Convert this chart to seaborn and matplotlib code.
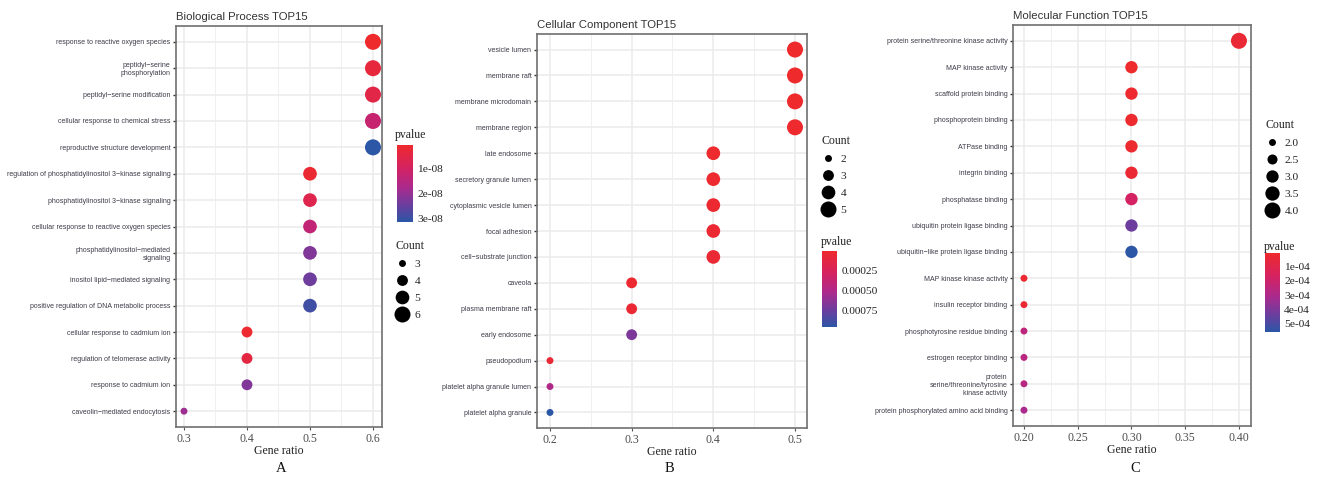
import numpy as np
import pandas as pd
import seaborn as sns
import matplotlib.pyplot as plt
from matplotlib.colors import LinearSegmentedColormap, Normalize
from matplotlib.cm import ScalarMappable
from matplotlib.lines import Line2D

# dados
bp_terms = [
    "response to reactive oxygen species", "peptidyl\u2212serine\nphosphorylation",
    "peptidyl\u2212serine modification", "cellular response to chemical stress",
    "reproductive structure development",
    "regulation of phosphatidylinositol 3\u2212kinase signaling",
    "phosphatidylinositol 3\u2212kinase signaling",
    "cellular response to reactive oxygen species",
    "phosphatidylinositol\u2212mediated\nsignaling",
    "inositol lipid\u2212mediated signaling",
    "positive regulation of DNA metabolic process",
    "cellular response to cadmium ion", "regulation of telomerase activity",
    "response to cadmium ion", "caveolin\u2212mediated endocytosis",
]
bp_ratio = [0.6, 0.6, 0.6, 0.6, 0.6, 0.5, 0.5, 0.5, 0.5, 0.5, 0.5, 0.4, 0.4, 0.4, 0.3]
bp_count = [6, 6, 6, 6, 6, 5, 5, 5, 5, 5, 5, 4, 4, 4, 3]
bp_pvalue = [4e-10, 3e-09, 5e-09, 1.2e-08, 3.12e-08, 1.5e-09, 6e-09, 1.3e-08,
             2.2e-08, 2.4e-08, 2.9e-08, 1e-09, 4e-09, 2.2e-08, 1.9e-08]

cc_terms = [
    "vesicle lumen", "membrane raft", "membrane microdomain", "membrane region",
    "late endosome", "secretory granule lumen", "cytoplasmic vesicle lumen",
    "focal adhesion", "cell\u2212substrate junction", "caveola",
    "plasma membrane raft", "early endosome", "pseudopodium",
    "platelet alpha granule lumen", "platelet alpha granule",
]
cc_ratio = [0.5, 0.5, 0.5, 0.5, 0.4, 0.4, 0.4, 0.4, 0.4, 0.3, 0.3, 0.3, 0.2, 0.2, 0.2]
cc_count = [5, 5, 5, 5, 4, 4, 4, 4, 4, 3, 3, 3, 2, 2, 2]
cc_pvalue = [1e-06, 2e-06, 3e-06, 5e-06, 1e-05, 1.5e-05, 2e-05, 3e-05, 4e-05,
             2e-05, 4e-05, 6.8e-04, 5e-05, 5e-04, 9.5e-04]

mf_terms = [
    "protein serine/threonine kinase activity", "MAP kinase activity",
    "scaffold protein binding", "phosphoprotein binding", "ATPase binding",
    "integrin binding", "phosphatase binding", "ubiquitin protein ligase binding",
    "ubiquitin\u2212like protein ligase binding", "MAP kinase kinase activity",
    "insulin receptor binding", "phosphotyrosine residue binding",
    "estrogen receptor binding",
    "protein\nserine/threonine/tyrosine\nkinase activity",
    "protein phosphorylated amino acid binding",
]
mf_ratio = [0.4, 0.3, 0.3, 0.3, 0.3, 0.3, 0.3, 0.3, 0.3, 0.2, 0.2, 0.2, 0.2, 0.2, 0.2]
mf_count = [4, 3, 3, 3, 3, 3, 3, 3, 3, 2, 2, 2, 2, 2, 2]
mf_pvalue = [3.5e-05, 5e-06, 8e-06, 1e-05, 1.2e-05, 3e-05, 1.7e-04, 4.3e-04,
             5.57e-04, 2e-05, 2.5e-05, 2.5e-04, 2.6e-04, 2.7e-04, 3.1e-04]

sns.set_theme(style="white")
plt.rcParams['font.family'] = ['Liberation Sans', 'DejaVu Sans']
SERIF = ['Liberation Serif', 'DejaVu Serif']

cmap = LinearSegmentedColormap.from_list(
    "pv", [(0.0, "#EE2A2D"), (0.3, "#D42262"), (0.55, "#AB2A8D"),
           (0.78, "#6B3E9E"), (1.0, "#2C56A6")])

W, H = 1319, 482
fig = plt.figure(figsize=(W / 100, H / 100), dpi=100)


def px(l, t, r, b):
    return [l / W, 1 - b / H, (r - l) / W, (b - t) / H]


paineis = [
    dict(terms=bp_terms, ratio=bp_ratio, count=bp_count, pvalue=bp_pvalue,
         title="Biological Process TOP15", box=(176, 26, 382, 427),
         xlim=(0.2873, 0.6143), xmaj=[0.3, 0.4, 0.5, 0.6], xfmt="{:.1f}",
         cbox=(397, 145, 413, 222), cticks=[1e-08, 2e-08, 3e-08],
         clabels=["1e-08", "2e-08", "3e-08"], ptitle=(395, 135),
         cnt=[3, 4, 5, 6], cntlab=["3", "4", "5", "6"], ctitle=(395, 240),
         letter="A", lx=281),
    dict(terms=cc_terms, ratio=cc_ratio, count=cc_count, pvalue=cc_pvalue,
         title="Cellular Component TOP15", box=(537, 34, 807, 428),
         xlim=(0.1841, 0.5147), xmaj=[0.2, 0.3, 0.4, 0.5], xfmt="{:.1f}",
         cbox=(822, 251, 837, 327), cticks=[0.00025, 0.0005, 0.00075],
         clabels=["0.00025", "0.00050", "0.00075"], ptitle=(821, 242),
         cnt=[2, 3, 4, 5], cntlab=["2", "3", "4", "5"], ctitle=(821, 135),
         letter="B", lx=669),
    dict(terms=mf_terms, ratio=mf_ratio, count=mf_count, pvalue=mf_pvalue,
         title="Molecular Function TOP15", box=(1013, 25, 1251, 426),
         xlim=(0.1898, 0.4112), xmaj=[0.20, 0.25, 0.30, 0.35, 0.40], xfmt="{:.2f}",
         cbox=(1265, 253, 1280, 332), cticks=[1e-04, 2e-04, 3e-04, 4e-04, 5e-04],
         clabels=["1e-04", "2e-04", "3e-04", "4e-04", "5e-04"], ptitle=(1264, 247),
         cnt=[2.0, 2.5, 3.0, 3.5, 4.0], cntlab=["2.0", "2.5", "3.0", "3.5", "4.0"],
         ctitle=(1265, 119), letter="C", lx=1135),
]

S_MIN, S_MAX = 25, 133

for p in paineis:
    df = pd.DataFrame({"Term": p["terms"], "GeneRatio": p["ratio"],
                       "Count": p["count"], "pvalue": p["pvalue"]})
    ax = fig.add_axes(px(*p["box"]))
    vmin, vmax = df["pvalue"].min(), df["pvalue"].max()
    cmin, cmax = df["Count"].min(), df["Count"].max()
    sns.scatterplot(data=df, x="GeneRatio", y="Term", hue="pvalue", size="Count",
                    palette=cmap, hue_norm=(vmin, vmax), sizes=(S_MIN, S_MAX),
                    size_norm=(cmin, cmax), linewidth=0, legend=False, ax=ax, zorder=3)
    n = len(df)
    ax.set_ylim(n - 0.4, -0.6)
    ax.set_xlim(*p["xlim"])
    ax.set_xticks(p["xmaj"])
    ax.set_xticklabels([p["xfmt"].format(v) for v in p["xmaj"]],
                       family=SERIF, fontsize=8.5, color="#4d4d4d")
    step = p["xmaj"][1] - p["xmaj"][0]
    ax.set_xticks([v + step / 2 for v in p["xmaj"][:-1]], minor=True)
    ax.grid(True, which="major", color="#EBEBEB", lw=1.1, zorder=0)
    ax.grid(True, which="minor", axis="x", color="#F0F0F0", lw=0.7, zorder=0)
    ax.set_axisbelow(True)
    ax.tick_params(axis="y", labelsize=5.0, labelcolor="#3b3b48", length=2.5,
                   width=1, color="#333333", pad=1.5, left=True)
    ax.tick_params(axis="x", length=2.5, width=0.8, color="#555555", pad=1.5,
                   bottom=True)
    ax.tick_params(axis="x", which="minor", length=0)
    for s in ax.spines.values():
        s.set_color("#707070")
        s.set_linewidth(1.2)
    ax.set_ylabel("")
    ax.set_xlabel("Gene ratio", family=SERIF, fontsize=8.5, color="#222222", labelpad=0.5)
    ax.set_title(p["title"], loc="left", fontsize=8.2, color="#333333", pad=4)

    # barra de cores (pvalue)
    cax = fig.add_axes(px(*p["cbox"]))
    sm = ScalarMappable(norm=Normalize(vmin, vmax), cmap=cmap)
    cb = fig.colorbar(sm, cax=cax, ticks=p["cticks"])
    cb.outline.set_visible(False)
    cax.invert_yaxis()
    cb.set_ticklabels(p["clabels"])
    cax.tick_params(length=3, width=0.8, color="white", direction="in",
                    labelsize=8.2, pad=3, labelcolor="#222222")
    for t in cax.get_yticklabels():
        t.set_family(SERIF)
    cax.tick_params(left=True, right=True)
    fig.text(p["ptitle"][0] / W, 1 - p["ptitle"][1] / H, "pvalue", family=SERIF,
             fontsize=8.5, color="#222222", va="center", ha="left")

    # legenda de tamanho (Count)
    handles = []
    for c in p["cnt"]:
        s = S_MIN + (c - cmin) / (cmax - cmin) * (S_MAX - S_MIN)
        handles.append(Line2D([], [], ls="", marker="o", color="black",
                              markersize=np.sqrt(s), markeredgewidth=0))
    leg = fig.legend(handles, p["cntlab"], title="Count", loc="upper left",
                     bbox_to_anchor=(p["ctitle"][0] / W, 1 - p["ctitle"][1] / H),
                     frameon=False, prop={"family": SERIF, "size": 8.2},
                     title_fontproperties={"family": SERIF, "size": 8.5},
                     labelspacing=0.62, handletextpad=0.4, handlelength=1.3,
                     borderpad=0, borderaxespad=0, alignment="left")
    for t in leg.get_texts():
        t.set_color("#222222")

    fig.text(p["lx"] / W, 1 - 469 / H, p["letter"], family=SERIF, fontsize=10.5,
             ha="center", va="center", color="#111111")

fig.savefig("out.png", dpi=100)
